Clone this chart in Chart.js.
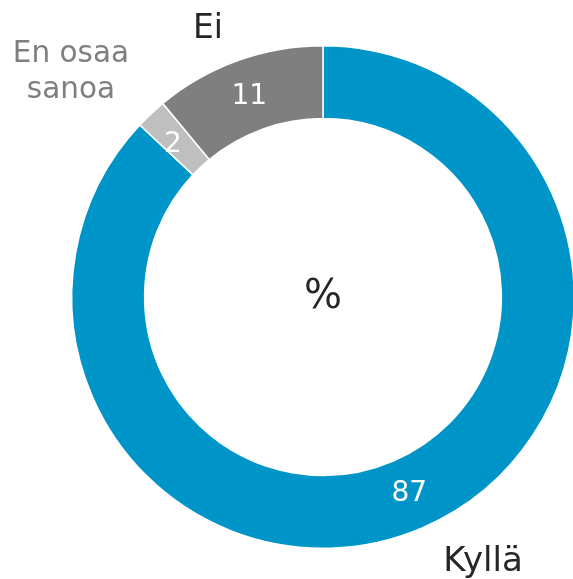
<!DOCTYPE html>
<html>
<head>
<meta charset="utf-8">
<script src="https://cdn.jsdelivr.net/npm/chart.js@4/dist/chart.umd.min.js"></script>
<style>
  html, body { margin: 0; padding: 0; overflow: hidden; background: #fff; }
  #wrap { width: 600px; height: 579px; }
</style>
</head>
<body>
<div id="wrap"><canvas id="donut" width="600" height="579"></canvas></div>
<script>
const labels = ['Kyllä', 'En osaa sanoa', 'Ei'];
const values = [87, 2, 11];
const colors = ['#0095c8', '#bfbfbf', '#7f7f7f'];

// category label placement (text only) and colours
const labelSpots = [
  { lines: ['Kyllä'], x: 483, y: 562, color: '#262626', size: 34 },
  { lines: ['En osaa', 'sanoa'], x: 71, y: 54, color: '#7f7f7f', size: 29.5 },
  { lines: ['Ei'], x: 208, y: 29, color: '#262626', size: 33 },
];
// small nudges for the value labels
const valueNudge = [[1, 0], [-3, 4], [-1, 2]];

const FONT = '"DejaVu Sans", Verdana, sans-serif';

const textPlugin = {
  id: 'texts',
  afterDraw(chart) {
    const c = chart.ctx;
    const meta = chart.getDatasetMeta(0);
    c.save();
    c.textAlign = 'center';
    c.textBaseline = 'middle';
    // values on the ring
    meta.data.forEach((arc, i) => {
      const p = arc.tooltipPosition();
      c.fillStyle = '#ffffff';
      c.font = '28px ' + FONT;
      c.fillText(String(values[i]), p.x + valueNudge[i][0], p.y + valueNudge[i][1]);
    });
    // centre text
    const cx = (chart.chartArea.left + chart.chartArea.right) / 2;
    const cy = (chart.chartArea.top + chart.chartArea.bottom) / 2;
    c.fillStyle = '#262626';
    c.font = '40px ' + FONT;
    c.fillText('%', cx, cy + 1);
    // category labels
    labelSpots.forEach(s => {
      c.fillStyle = s.color;
      c.font = s.size + 'px ' + FONT;
      s.lines.forEach((ln, k) => c.fillText(ln, s.x, s.y + k * 36));
    });
    c.restore();
  }
};

new Chart(document.getElementById('donut').getContext('2d'), {
  type: 'doughnut',
  data: {
    labels: labels,
    datasets: [{
      data: values,
      backgroundColor: colors,
      borderColor: '#ffffff',
      borderWidth: 1.5,
    }],
  },
  options: {
    responsive: false,
    animation: false,
    cutout: '71%',
    layout: { padding: { left: 71, right: 25, top: 45, bottom: 30 } },
    plugins: {
      legend: { display: false },
      tooltip: { enabled: false },
    },
  },
  plugins: [textPlugin],
});
</script>
</body>
</html>
